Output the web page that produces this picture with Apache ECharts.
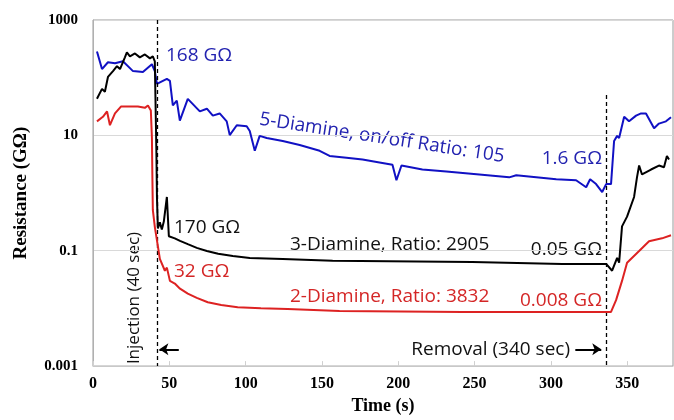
<!DOCTYPE html>
<html>
<head>
<meta charset="utf-8">
<script src="https://cdn.jsdelivr.net/npm/echarts@6/dist/echarts.min.js"></script>
<style>
  html, body { margin: 0; padding: 0; background: #fff; }
  #chart { width: 674px; height: 420px; }
</style>
</head>
<body>
<div id="chart"></div>
<script>
// 5-Diamine (blue)
var blueT = [2.6, 5.9, 9.8, 14.4, 19.6, 26.2, 32.7, 38.6, 40.5, 41.9, 48.4, 50.4, 52.3, 54.9, 56.9, 62.1, 70, 74.6, 78.5, 83, 87.6, 89.6, 94.2, 100.7, 102.7, 106, 109.2, 113.8, 124.3, 135.4, 148.5, 155, 166.1, 176.6, 187.7, 196.2, 198.8, 202.1, 215.8, 231.5, 253.1, 272.7, 277.3, 303.5, 316.5, 323.1, 325.7, 329.6, 333.6, 336.2, 339.4, 341.4, 343.4, 344.7, 348, 351.2, 355.8, 359.1, 362.3, 367.6, 370.8, 375.4, 378.7];
var blueV = [285, 141, 185, 178, 192, 130, 125, 171, 130, 78, 95, 88, 33, 40, 18, 43, 26, 29, 22, 24, 17.5, 10.1, 15, 14.4, 11.9, 5.4, 9.8, 9.0, 8.0, 6.8, 5.4, 4.4, 4.1, 3.8, 3.4, 3.1, 1.67, 3.0, 2.56, 2.37, 2.1, 1.87, 2.03, 1.73, 1.67, 1.26, 1.73, 1.43, 1.04, 1.43, 1.43, 8.0, 9.8, 9.0, 21, 17.5, 22, 24, 24, 13.3, 16, 17.5, 20.6];
// 3-Diamine (black)
var blackT = [2.6, 5.9, 7.8, 9.8, 13.1, 15.7, 17.7, 20.9, 22.2, 24.2, 27.5, 30.7, 34, 37.3, 39.2, 40.5, 41.5, 41.9, 42.5, 43.8, 45.1, 46.4, 48.4, 49.7, 53.6, 57, 62.1, 68, 74.6, 82, 91.6, 102.7, 124.3, 157, 248.5, 307.4, 336.2, 340.1, 341.4, 343.4, 344.7, 346.6, 349.9, 354.5, 356.4, 357.8, 359.7, 365.6, 370.8, 374.1, 376, 377.4];
var blackV = [43, 64, 57, 103, 130, 158, 141, 225, 274, 234, 263, 225, 253, 216, 234, 192, 6.1, 0.855, 0.244, 0.31, 0.234, 0.32, 0.855, 0.178, 0.164, 0.148, 0.13, 0.112, 0.099, 0.089, 0.081, 0.075, 0.072, 0.067, 0.064, 0.059, 0.059, 0.045, 0.042, 0.075, 0.062, 0.264, 0.39, 0.855, 1.87, 3.0, 2.1, 2.56, 3.0, 2.8, 4.4, 3.8];
// 2-Diamine (red)
var redT = [2.6, 6.5, 9.2, 11.1, 14.4, 18.3, 22.2, 29.4, 34, 36, 37.9, 38.6, 38.9, 39.2, 40.5, 42.5, 43.8, 47.1, 48.4, 50.4, 53.6, 57, 62.1, 68, 75.2, 84, 94.8, 110, 127.5, 161.5, 242, 339.4, 342.7, 346.6, 349.9, 357.8, 364.3, 372.8, 378.7];
var redV = [17.5, 21, 26, 15, 24, 31.6, 31.6, 31.6, 30, 33, 27, 9, 1.9, 0.51, 0.26, 0.12, 0.072, 0.045, 0.051, 0.030, 0.027, 0.022, 0.018, 0.0152, 0.0128, 0.0115, 0.0105, 0.0101, 0.0098, 0.009, 0.0087, 0.0087, 0.0139, 0.030, 0.062, 0.099, 0.146, 0.164, 0.185];

// y 轴标签（每两个数量级一个）
var yLabels = { '-3': '0.001', '-1': '0.1', '1': '10', '3': '1000' };
// 注入 / 移除时刻
var injectT = 41.9;
var removeT = 336.2;

function pairs(t, v) {
    var out = [];
    for (var i = 0; i < t.length; i++) out.push([t[i], v[i]]);
    return out;
}

var BLUE = '#1111c4';
var RED = '#dd2222';
var TXT_FONT = '"Open Sans", sans-serif';

function note(text, x, y, color, align, extra, size) {
    var g = {
        type: 'text',
        x: x,
        y: y,
        style: {
            text: text,
            fill: color,
            font: (size || 19) + 'px ' + TXT_FONT,
            align: align || 'left',
            verticalAlign: 'middle'
        }
    };
    if (extra) for (var k in extra) g[k] = extra[k];
    return g;
}

var myChart = echarts.init(document.getElementById('chart'));
var option = {
    animation: false,
    grid: {
        left: 93, right: 1, top: 20, bottom: 48,
        show: true, borderColor: '#9a9a9a', borderWidth: 1
    },
    xAxis: {
        type: 'value',
        min: 0, max: 380, interval: 50,
        name: 'Time (s)',
        nameLocation: 'middle',
        nameGap: 27,
        nameTextStyle: { fontFamily: 'Liberation Serif', fontWeight: 'bold', fontSize: 18, color: '#000' },
        axisLine: { lineStyle: { color: '#c8c8c8' } },
        axisTick: { show: true, inside: true, length: 5, lineStyle: { color: '#d0d0d0' } },
        axisLabel: {
            showMaxLabel: false,
            margin: 10,
            fontFamily: 'Liberation Serif', fontWeight: 'bold', fontSize: 16, color: '#000'
        },
        splitLine: { show: false }
    },
    yAxis: {
        type: 'log',
        logBase: 10,
        min: 0.001, max: 1000, interval: 1,
        name: 'Resistance (GΩ)',
        nameLocation: 'middle',
        nameGap: 62,
        nameTextStyle: { fontFamily: 'Liberation Serif', fontWeight: 'bold', fontSize: 19, color: '#000' },
        axisLine: { show: true, lineStyle: { color: '#b0b0b0' } },
        axisTick: { show: false },
        axisLabel: {
            margin: 15,
            fontFamily: 'Liberation Serif', fontWeight: 'bold', fontSize: 15, color: '#000',
            formatter: function (v) {
                var e = Math.round(Math.log(v) / Math.LN10);
                return yLabels[e] || '';
            }
        },
        splitLine: { show: true, showMinLine: true, showMaxLine: true, lineStyle: { color: ['#d9d9d9', 'rgba(0,0,0,0)'], width: 1 } }
    },
    series: [{
        name: '5-Diamine',
        type: 'line',
        data: pairs(blueT, blueV),
        showSymbol: false,
        lineStyle: { color: BLUE, width: 2 },
        z: 3
    }, {
        name: '3-Diamine',
        type: 'line',
        data: pairs(blackT, blackV),
        showSymbol: false,
        lineStyle: { color: '#000', width: 2 },
        z: 4,
        markLine: {
            silent: true,
            symbol: ['none', 'none'],
            label: { show: false },
            lineStyle: { color: '#000', type: [4, 3], width: 1.3 },
            data: [
                [{ coord: [injectT, 1000] }, { coord: [injectT, 0.001] }],
                [{ coord: [removeT, 50] }, { coord: [removeT, 0.001] }]
            ]
        }
    }, {
        name: '2-Diamine',
        type: 'line',
        data: pairs(redT, redV),
        showSymbol: false,
        lineStyle: { color: RED, width: 2 },
        z: 5,
        markLine: {
            silent: true,
            symbol: ['none', 'arrow'],
            symbolSize: [9, 9],
            label: { show: false },
            lineStyle: { color: '#000', type: 'solid', width: 2 },
            data: [
                [{ coord: [56.2, 0.00195] }, { coord: [43.5, 0.00195] }],
                [{ coord: [316, 0.00195] }, { coord: [333, 0.00195] }]
            ]
        }
    }],
    graphic: [
        note('168 GΩ', 166, 56, '#2323b0'),
        note('5-Diamine, on/off Ratio: 105', 382, 138, '#2323b0', 'center', { rotation: -0.152 }),
        note('1.6 GΩ', 602, 159, '#2323b0', 'right'),
        note('170 GΩ', 174, 228, '#111'),
        note('3-Diamine, Ratio: 2905', 290, 245, '#111'),
        note('0.05 GΩ', 602, 250, '#111', 'right'),
        note('32 GΩ', 174, 272, '#d42626'),
        note('2-Diamine, Ratio: 3832', 290, 297, '#d42626'),
        note('0.008 GΩ', 602, 301, '#d42626', 'right'),
        note('Removal (340 sec)', 570, 350, '#111', 'right'),
        note('Injection (40 sec)', 134, 298, '#111', 'center', { rotation: Math.PI / 2 }, 17)
    ]
};
myChart.setOption(option);
</script>
</body>
</html>
